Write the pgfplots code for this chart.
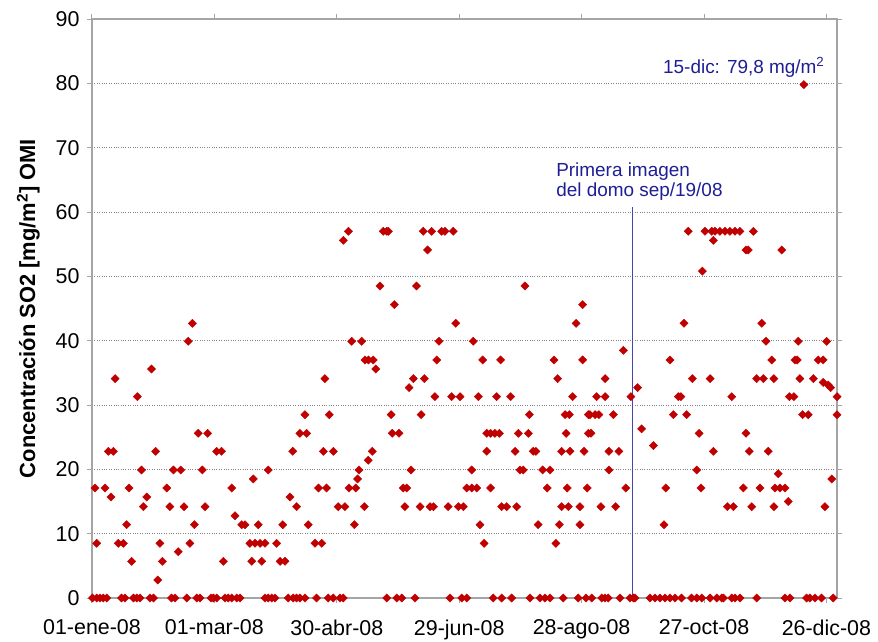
\documentclass[border=0pt]{standalone}
\usepackage{fontspec}
\setmainfont{Liberation Sans}
\usepackage{pgfplots}
\usepackage{pgfplotstable}
\pgfplotsset{compat=1.18}
\definecolor{mk}{RGB}{192,0,0}
\definecolor{ann}{RGB}{30,30,150}
\definecolor{vline}{RGB}{70,70,170}
\definecolor{axg}{RGB}{165,165,165}
\definecolor{grd}{RGB}{130,130,130}

\pgfplotstableread{
x y
1.5 17.1
2.3 8.5
6.4 17.1
8.0 22.8
9.3 15.7
10.5 22.8
11.3 34.1
12.9 8.5
15.4 8.5
17.0 11.4
18.1 17.1
19.4 5.7
22.2 31.3
24.3 19.9
25.2 14.2
26.8 15.7
29.2 35.6
31.2 22.8
32.2 2.8
33.3 8.5
34.5 5.7
36.6 17.1
38.2 14.2
39.9 19.9
42.3 7.2
43.5 19.9
45.1 14.2
47.2 39.9
48.0 8.5
49.2 42.7
50.2 11.4
52.1 25.6
54.1 19.9
55.4 14.2
56.7 25.6
61.1 22.8
63.5 22.8
64.4 5.7
68.5 17.1
70.1 12.8
73.4 11.4
75.0 11.4
77.4 8.5
78.3 5.7
79.1 18.5
79.9 8.5
81.5 11.4
82.4 8.5
83.2 5.7
84.8 8.5
86.4 19.9
90.5 8.5
92.2 5.7
93.5 11.4
94.6 5.7
97.1 15.7
98.4 22.8
100.3 14.2
101.9 25.6
104.4 28.5
105.2 25.6
106.0 11.4
109.3 8.5
111.0 17.1
112.6 8.5
113.4 22.8
114.2 34.1
115.0 17.1
116.3 28.5
118.3 22.8
120.7 14.2
123.2 55.6
124.0 14.2
125.7 57.0
126.0 17.1
127.3 39.9
128.6 11.4
129.3 17.1
130.2 18.5
130.9 19.9
132.2 39.9
133.5 14.2
133.8 37.0
135.4 21.4
135.5 37.0
137.4 22.8
137.9 37.0
139.1 35.6
141.2 48.5
142.8 57.0
144.5 57.0
145.3 57.0
146.6 28.5
147.2 25.6
148.2 45.6
150.5 25.6
152.6 17.1
153.4 14.2
154.3 17.1
155.4 32.7
156.4 19.9
157.5 34.1
159.1 48.5
160.8 14.2
161.3 28.5
162.4 57.0
162.9 34.1
164.5 54.1
165.7 14.2
166.5 57.0
167.4 14.2
168.1 31.3
169.0 37.0
170.1 39.9
171.4 57.0
173.0 57.0
174.6 14.2
176.3 31.3
177.1 57.0
178.3 42.7
179.6 14.2
180.4 31.3
182.0 14.2
183.7 17.1
186.1 17.1
186.1 19.9
186.9 39.9
188.6 17.1
189.4 31.3
190.2 11.4
191.5 37.0
192.2 8.5
193.5 25.6
193.5 22.8
195.4 25.6
195.4 17.1
197.5 25.6
198.3 31.3
199.7 25.6
200.3 37.0
200.8 14.2
203.3 14.2
205.2 31.3
207.4 22.8
208.2 14.2
209.0 25.6
209.8 19.9
211.4 19.9
212.2 48.5
213.9 25.6
214.4 28.5
216.3 22.8
217.6 22.8
218.7 11.4
220.9 19.9
223.2 17.1
224.5 19.9
226.5 37.0
227.4 8.5
228.3 34.1
229.1 11.4
230.2 22.8
230.2 14.2
231.9 28.5
232.4 25.6
233.0 17.1
233.5 14.2
234.0 28.5
234.3 22.8
235.6 31.3
237.3 42.7
239.2 14.2
239.2 11.4
240.5 45.6
240.5 37.0
241.2 22.8
242.8 17.1
243.3 28.5
243.3 25.6
244.1 28.5
244.6 25.6
246.6 28.5
247.4 31.3
248.5 28.5
249.5 14.2
251.5 34.1
251.5 31.3
253.4 22.8
253.4 19.9
255.6 28.5
256.7 14.2
258.3 22.8
260.5 38.5
261.6 17.1
264.2 31.3
267.5 32.7
269.4 26.3
275.2 23.7
280.4 11.4
281.2 17.1
283.3 37.0
285.0 28.5
287.4 31.3
288.7 31.3
290.2 42.7
291.5 28.5
292.3 57.0
294.3 34.1
296.4 19.9
297.6 25.6
298.5 17.1
299.2 50.8
300.5 57.0
303.0 34.1
303.8 57.0
304.6 55.6
304.6 22.8
305.4 57.0
307.8 57.0
310.3 57.0
311.5 14.2
312.7 57.0
313.6 31.3
314.4 14.2
315.2 57.0
317.6 57.0
319.3 17.1
320.6 54.1
320.6 25.6
321.7 54.1
322.2 22.8
323.4 14.2
324.2 57.0
325.8 34.1
327.5 17.1
328.3 42.7
329.1 34.1
330.4 39.9
331.5 22.8
333.2 37.0
334.3 34.1
334.3 14.2
334.8 17.1
336.4 19.3
337.3 17.1
338.1 54.1
339.7 17.1
341.3 15.0
341.8 31.3
344.1 31.3
344.6 37.0
345.7 37.0
346.2 39.9
347.0 34.1
348.3 28.5
349.0 79.8
351.1 28.5
353.6 34.1
356.0 37.0
358.4 37.0
358.4 33.5
359.3 14.2
360.1 39.9
360.9 33.1
362.1 32.7
362.6 18.5
365.2 31.3
365.2 28.5
}\dataNZ

\pgfplotstableread{
x y
0.2 0
2.3 0
3.9 0
5.5 0
7.2 0
14.5 0
16.2 0
20.3 0
21.9 0
23.5 0
28.4 0
30.1 0
39.0 0
40.7 0
46.4 0
51.3 0
52.9 0
58.3 0
59.5 0
61.1 0
65.2 0
66.8 0
68.5 0
70.9 0
72.5 0
84.8 0
86.4 0
88.1 0
89.7 0
96.2 0
98.7 0
100.3 0
101.9 0
104.4 0
110.1 0
115.8 0
118.3 0
121.6 0
123.2 0
144.5 0
149.4 0
151.8 0
158.3 0
175.5 0
181.2 0
183.7 0
196.7 0
200.8 0
205.7 0
214.7 0
219.6 0
222.0 0
224.5 0
231.0 0
238.4 0
242.1 0
245.0 0
249.9 0
251.5 0
253.1 0
258.8 0
263.7 0
265.4 0
266.2 0
273.5 0
276.0 0
278.4 0
280.9 0
283.3 0
285.8 0
289.0 0
293.9 0
296.4 0
298.9 0
303.0 0
306.2 0
308.7 0
309.5 0
313.6 0
315.2 0
317.6 0
325.8 0
339.7 0
342.2 0
350.3 0
351.9 0
354.4 0
357.6 0
363.4 0
}\dataZ

\begin{document}
\begin{tikzpicture}
\useasboundingbox (-92bp,-44bp) rectangle (786bp,598bp);
\begin{axis}[
  at={(0,0)}, anchor=south west,
  scale only axis, width=745bp, height=579bp,
  xmin=0, xmax=365.2, ymin=0, ymax=90,
  clip=false,
  axis line style={axg, line width=1.3bp},
  ytick={0,10,...,90},
  ymajorgrids,
  grid style={grd, dotted, line width=0.8bp},
  xtick={0,60,120,180,240,300,360},
  xticklabels={01-ene-08,01-mar-08,30-abr-08,29-jun-08,28-ago-08,27-oct-08,26-dic-08},
  tick align=outside,
  major tick length=5bp,
  tick style={axg, line width=1bp},
  tick label style={font=\fontsize{21.5}{24}\selectfont},
  /pgf/number format/assume math mode=true,
  xticklabel style={yshift=-13bp},
  yticklabel style={xshift=-4bp},
  ylabel={\bfseries Concentración SO2 [mg/m\textsuperscript{2}] OMI},
  ylabel style={font=\fontsize{22}{24}\selectfont, at={(axis description cs:-0.0855,0.5)}, anchor=center},
]
\addplot[vline, line width=1bp] coordinates {(265,0) (265,60.7)};
\addplot[only marks, mark=square*, mark size=2.9bp, mark options={fill=mk, draw=mk, rotate=45}] table[x=x,y=y] {\dataZ};
\addplot[only marks, mark=square*, mark size=2.9bp, mark options={fill=mk, draw=mk, rotate=45}] table[x=x,y=y] {\dataNZ};
\node[anchor=base west, text=ann, font=\fontsize{19}{22}\selectfont, inner sep=0pt] at (axis cs:279.9,81.6) {15-dic: 79,8 mg/m\textsuperscript{2}};
\node[anchor=base west, align=left, text=ann, font=\fontsize{19}{20.5}\selectfont, inner sep=0pt] at (axis cs:227.5,62.4) {Primera imagen\\del domo sep/19/08};
\end{axis}
\end{tikzpicture}
\end{document}
